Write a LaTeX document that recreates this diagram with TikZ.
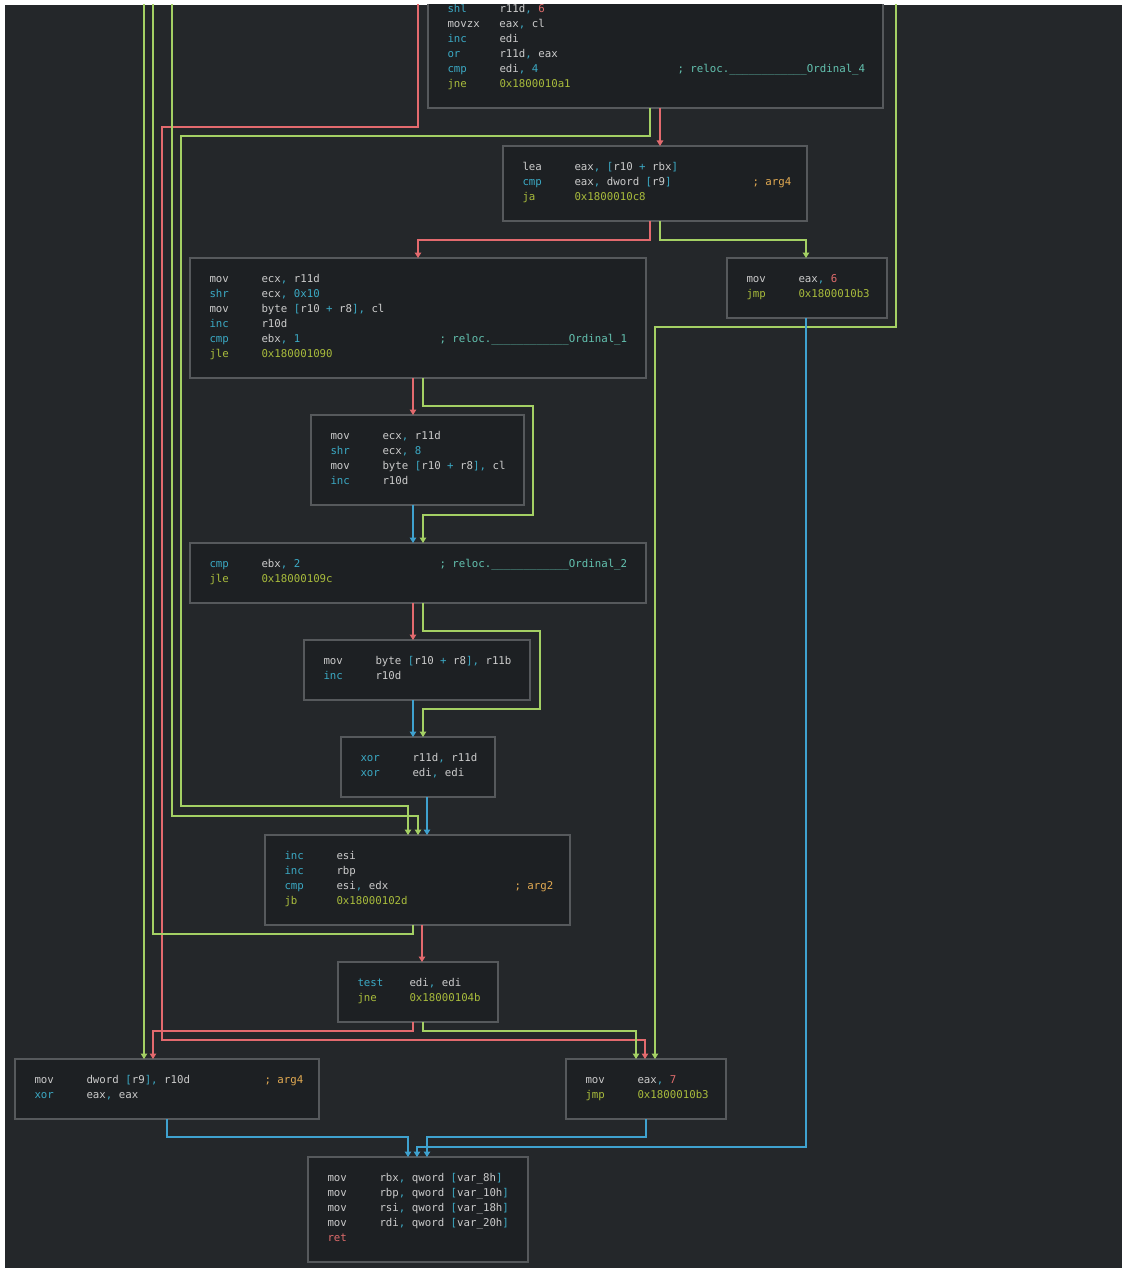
\documentclass[tikz,border=0pt]{standalone}
\usepackage{fontspec}
\newfontfamily\asmfont{DejaVu Sans Mono}
\usetikzlibrary{arrows.meta}
\definecolor{bgc}{HTML}{24272A}
\definecolor{boxc}{HTML}{1D2023}
\definecolor{bordc}{HTML}{56595C}
\definecolor{txg}{HTML}{CBCBCB}
\definecolor{txc}{HTML}{3BA9C4}
\definecolor{txy}{HTML}{A9BC3C}
\definecolor{txr}{HTML}{E06C6C}
\definecolor{txo}{HTML}{E2AA52}
\definecolor{txt}{HTML}{63C2B0}
\definecolor{edr}{HTML}{E36A6E}
\definecolor{edg}{HTML}{A4D064}
\definecolor{edb}{HTML}{3FA2CF}
\newcommand\Kc[1]{\textcolor{txc}{#1}}
\newcommand\Ky[1]{\textcolor{txy}{#1}}
\newcommand\Kr[1]{\textcolor{txr}{#1}}
\newcommand\Ko[1]{\textcolor{txo}{#1}}
\newcommand\Kt[1]{\textcolor{txt}{#1}}
\newcommand\cm{\Kc{,}}
\newcommand\AL[3]{\makebox[52pt][l]{#1}\makebox[178pt][l]{#2}#3\par}
\newcommand\rel[1]{\Kt{; reloc.\_\_\_\_\_\_\_\_\_\_\_\_Ordinal\_#1}}
\tikzset{
  blk/.style={draw=bordc, fill=boxc, line width=1.2pt, inner sep=0pt, outer sep=0pt, anchor=north west},
  asmtxt/.style={anchor=base west, inner sep=0pt, outer sep=0pt, text=txg, font=\asmfont\fontsize{10.75}{15}\selectfont},
  edge/.style={line width=1.2pt, -{Triangle[width=6.5pt,length=5.5pt]}},
  eR/.style={edge, draw=edr},
  eG/.style={edge, draw=edg},
  eB/.style={edge, draw=edb},
  eGplain/.style={line width=1.2pt, draw=edg},
}
\newcommand\blockat[6]{%
  \node[blk, minimum width={#4-#2}, minimum height={#5-#3}] (#1) at (#2,#3) {};
  \node[asmtxt] (#1t) at ([xshift=19.5pt,yshift=-24.5pt]#1.north west) {\parbox[t]{420pt}{#6}};
}
\begin{document}
\begin{tikzpicture}[x=1pt,y=-1pt]
\fill[white] (0,0) rectangle (1122,1268);
\fill[bgc] (5,5) rectangle (1122,1268);
\begin{scope}
\clip (5,5) rectangle (1122,1268);
\coordinate (o418) at (418,-10);
\coordinate (o144) at (144,-10);
\coordinate (o153) at (153,-10);
\coordinate (o172) at (172,-10);
\coordinate (o896) at (896,-10);

\blockat{bTop}{428}{-11.5}{883}{108}{%
\AL{\Kc{shl}}{r11d\cm{} \Kr{6}}{}%
\AL{movzx}{eax\cm{} cl}{}%
\AL{\Kc{inc}}{edi}{}%
\AL{\Kc{or}}{r11d\cm{} eax}{}%
\AL{\Kc{cmp}}{edi\cm{} \Kc{4}}{\rel{4}}%
\AL{\Ky{jne}}{\Ky{0x1800010a1}}{}}

\blockat{bLea}{503}{146}{807}{221}{%
\AL{lea}{eax\cm{} \Kc{[}r10 \Kc{+} rbx\Kc{]}}{}%
\AL{\Kc{cmp}}{eax\cm{} dword \Kc{[}r9\Kc{]}}{\Ko{; arg4}}%
\AL{\Ky{ja}}{\Ky{0x1800010c8}}{}}

\blockat{bM6}{727}{258}{887}{318}{%
\AL{mov}{eax\cm{} \Kr{6}}{}%
\AL{\Ky{jmp}}{\Ky{0x1800010b3}}{}}

\blockat{bEcx}{190}{258}{646}{378}{%
\AL{mov}{ecx\cm{} r11d}{}%
\AL{\Kc{shr}}{ecx\cm{} \Kc{0x10}}{}%
\AL{mov}{byte \Kc{[}r10 \Kc{+} r8\Kc{]}\cm{} cl}{}%
\AL{\Kc{inc}}{r10d}{}%
\AL{\Kc{cmp}}{ebx\cm{} \Kc{1}}{\rel{1}}%
\AL{\Ky{jle}}{\Ky{0x180001090}}{}}

\blockat{bShr}{311}{415}{524}{505}{%
\AL{mov}{ecx\cm{} r11d}{}%
\AL{\Kc{shr}}{ecx\cm{} \Kc{8}}{}%
\AL{mov}{byte \Kc{[}r10 \Kc{+} r8\Kc{]}\cm{} cl}{}%
\AL{\Kc{inc}}{r10d}{}}

\blockat{bCmp}{190}{543}{646}{603}{%
\AL{\Kc{cmp}}{ebx\cm{} \Kc{2}}{\rel{2}}%
\AL{\Ky{jle}}{\Ky{0x18000109c}}{}}

\blockat{bMovb}{304}{640}{530}{700}{%
\AL{mov}{byte \Kc{[}r10 \Kc{+} r8\Kc{]}\cm{} r11b}{}%
\AL{\Kc{inc}}{r10d}{}}

\blockat{bXor}{341}{737}{495}{797}{%
\AL{\Kc{xor}}{r11d\cm{} r11d}{}%
\AL{\Kc{xor}}{edi\cm{} edi}{}}

\blockat{bInc}{265}{835}{570}{925}{%
\AL{\Kc{inc}}{esi}{}%
\AL{\Kc{inc}}{rbp}{}%
\AL{\Kc{cmp}}{esi\cm{} edx}{\Ko{; arg2}}%
\AL{\Ky{jb}}{\Ky{0x18000102d}}{}}

\blockat{bTest}{338}{962}{498}{1022}{%
\AL{\Kc{test}}{edi\cm{} edi}{}%
\AL{\Ky{jne}}{\Ky{0x18000104b}}{}}

\blockat{bMovd}{15}{1059}{319}{1119}{%
\AL{mov}{dword \Kc{[}r9\Kc{]}\cm{} r10d}{\Ko{; arg4}}%
\AL{\Kc{xor}}{eax\cm{} eax}{}}

\blockat{bM7}{566}{1059}{726}{1119}{%
\AL{mov}{eax\cm{} \Kr{7}}{}%
\AL{\Ky{jmp}}{\Ky{0x1800010b3}}{}}

\blockat{bRet}{308}{1157}{528}{1262}{%
\AL{mov}{rbx\cm{} qword \Kc{[}var\_8h\Kc{]}}{}%
\AL{mov}{rbp\cm{} qword \Kc{[}var\_10h\Kc{]}}{}%
\AL{mov}{rsi\cm{} qword \Kc{[}var\_18h\Kc{]}}{}%
\AL{mov}{rdi\cm{} qword \Kc{[}var\_20h\Kc{]}}{}%
\AL{\Kr{ret}}{}{}}

% edges
\draw[eR] (o418) -- (418,127) -- (162,127) -- (162,1040) -- (645,1040) -- (645,0 |- bM7.north);
\draw[eG] (o144) -- (144,0 |- bMovd.north);
\draw[eGplain] (413,0 |- bInc.south) -- (413,934) -- (153,934) -- (o153);
\draw[eG] (o172) -- (172,816) -- (418,816) -- (418,0 |- bInc.north);
\draw[eG] (650,0 |- bTop.south) -- (650,136) -- (181,136) -- (181,806) -- (408,806) -- (408,0 |- bInc.north);
\draw[eR] (660,0 |- bTop.south) -- (660,0 |- bLea.north);
\draw[eG] (o896) -- (896,327) -- (655,327) -- (655,0 |- bM7.north);
\draw[eR] (650,0 |- bLea.south) -- (650,240) -- (418,240) -- (418,0 |- bEcx.north);
\draw[eG] (660,0 |- bLea.south) -- (660,240) -- (806,240) -- (806,0 |- bM6.north);
\draw[eB] (806,0 |- bM6.south) -- (806,1147) -- (417,1147) -- (417,0 |- bRet.north);
\draw[eR] (413,0 |- bEcx.south) -- (413,0 |- bShr.north);
\draw[eG] (423,0 |- bEcx.south) -- (423,406) -- (533,406) -- (533,515) -- (423,515) -- (423,0 |- bCmp.north);
\draw[eB] (413,0 |- bShr.south) -- (413,0 |- bCmp.north);
\draw[eR] (413,0 |- bCmp.south) -- (413,0 |- bMovb.north);
\draw[eG] (423,0 |- bCmp.south) -- (423,631) -- (540,631) -- (540,709) -- (423,709) -- (423,0 |- bXor.north);
\draw[eB] (413,0 |- bMovb.south) -- (413,0 |- bXor.north);
\draw[eB] (427,0 |- bXor.south) -- (427,0 |- bInc.north);
\draw[eR] (422,0 |- bInc.south) -- (422,0 |- bTest.north);
\draw[eR] (413,0 |- bTest.south) -- (413,1031) -- (153,1031) -- (153,0 |- bMovd.north);
\draw[eG] (423,0 |- bTest.south) -- (423,1031) -- (636,1031) -- (636,0 |- bM7.north);
\draw[eB] (167,0 |- bMovd.south) -- (167,1137) -- (408,1137) -- (408,0 |- bRet.north);
\draw[eB] (646,0 |- bM7.south) -- (646,1137) -- (427,1137) -- (427,0 |- bRet.north);
\end{scope}
\end{tikzpicture}
\end{document}
